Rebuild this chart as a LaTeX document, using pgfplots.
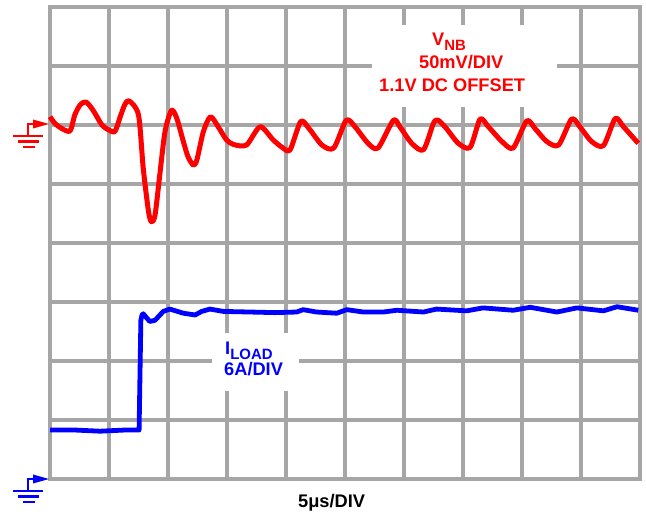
\documentclass[border=0pt]{standalone}
\usepackage{pgfplots}
\pgfplotsset{compat=1.18}
\usepackage{fontspec}
\setmainfont{Liberation Sans}
\definecolor{scgrid}{HTML}{A6A6A6}
\definecolor{vred}{HTML}{FF0000}
\definecolor{iblue}{HTML}{0000FF}

% traces in divisions (10 x 8 grid)
\pgfplotstableread{
x y
0.00 6.14
0.08 6.03
0.20 5.94
0.34 5.90
0.42 6.17
0.51 6.34
0.61 6.39
0.73 6.25
0.88 6.00
0.99 5.92
1.10 5.89
1.19 6.14
1.27 6.35
1.34 6.41
1.50 6.17
1.58 5.27
1.67 4.53
1.72 4.36
1.78 4.47
1.86 5.15
1.95 5.89
2.06 6.25
2.15 6.11
2.26 5.72
2.34 5.46
2.43 5.32
2.49 5.41
2.60 5.89
2.72 6.14
2.85 5.97
2.99 5.75
3.11 5.67
3.33 5.66
3.56 5.97
3.78 5.75
3.95 5.61
4.07 5.58
4.25 6.06
4.39 5.94
4.61 5.66
4.81 5.61
5.02 6.08
5.17 5.97
5.39 5.69
5.56 5.61
5.82 6.08
5.93 5.97
6.13 5.69
6.33 5.58
6.50 6.03
6.58 6.08
6.72 5.94
6.92 5.69
7.12 5.62
7.29 6.10
7.43 5.97
7.66 5.72
7.85 5.61
8.08 6.07
8.22 5.94
8.42 5.72
8.62 5.66
8.84 6.10
8.98 5.97
9.18 5.72
9.38 5.65
9.58 6.11
9.72 5.97
9.97 5.69
}\vnb

\pgfplotstableread{
x y
0.00 0.83
0.42 0.83
0.85 0.81
1.27 0.83
1.51 0.83
1.54 2.69
1.56 2.78
1.58 2.80
1.69 2.67
1.78 2.69
1.92 2.84
2.03 2.88
2.26 2.81
2.46 2.78
2.57 2.84
2.71 2.88
2.94 2.84
3.39 2.83
3.81 2.82
4.18 2.83
4.29 2.87
4.52 2.83
4.86 2.81
5.03 2.87
5.31 2.83
5.65 2.83
5.88 2.86
6.33 2.83
6.55 2.88
7.06 2.85
7.34 2.90
7.85 2.86
8.14 2.91
8.59 2.83
8.93 2.90
9.38 2.85
9.61 2.92
9.97 2.86
}\iload

\begin{document}
\begin{tikzpicture}[x=1bp,y=1bp]
\useasboundingbox (0,0) rectangle (646,512);
\begin{axis}[
  at={(50bp,33bp)}, anchor=south west,
  scale only axis,
  width=590bp, height=472bp,
  xmin=0, xmax=10, ymin=0, ymax=8,
  xtick={0,...,10}, ytick={0,...,8},
  xticklabels={}, yticklabels={},
  major tick length=0pt,
  grid=major,
  grid style={scgrid, line width=3.5bp},
  axis line style={scgrid, line width=3.5bp},
  clip=false,
]
\addplot[vred, line width=5bp, line join=round, smooth, tension=0.45] table {\vnb};
\addplot[iblue, line width=4.8bp, line join=round] table {\iload};
\end{axis}

% white label boxes breaking the graticule
\fill[white] (372,405) rectangle (557,487);
\fill[white] (212,121) rectangle (299,179);

\begin{scope}[every node/.style={inner sep=0pt, font=\bfseries\fontsize{18.3}{21}\selectfont}]
\node[vred, anchor=base west] at (432,466) {V\raisebox{-0.45ex}{\fontsize{15}{16}\selectfont NB}};
\node[vred, anchor=base west] at (419,443) {50mV/DIV};
\node[vred, anchor=base west] at (379,420) {1.1V DC OFFSET};
\node[iblue, anchor=base west] at (225,157) {I\raisebox{-0.45ex}{\fontsize{15}{16}\selectfont LOAD}};
\node[iblue, anchor=base west] at (224,136) {6A/DIV};
\node[black, anchor=base west] at (298,4) {5μs/DIV};
\end{scope}

% ground markers
\foreach \yy/\cc in {388/vred, 33/iblue} {
  \draw[\cc, line width=2.5bp] (28,\yy-12) -- (28,\yy) -- (36,\yy);
  \fill[\cc] (33,\yy+4.5) -- (49,\yy) -- (33,\yy-4.5) -- cycle;
  \draw[\cc, line width=2.8bp] (13,\yy-12) -- (43,\yy-12);
  \draw[\cc, line width=2.8bp] (18,\yy-17.5) -- (39,\yy-17.5);
  \draw[\cc, line width=2.8bp] (23,\yy-23) -- (35,\yy-23);
}
\end{tikzpicture}
\end{document}
